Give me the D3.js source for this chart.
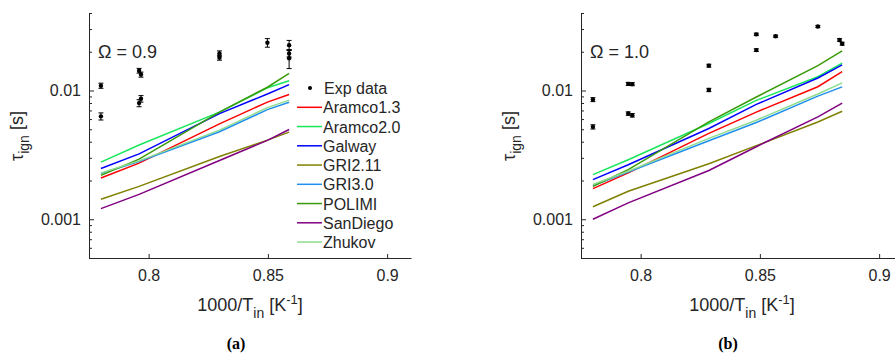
<!DOCTYPE html>
<html>
<head>
<meta charset="utf-8">
<script src="https://cdn.jsdelivr.net/npm/d3@7"></script>
<style>
body { margin: 0; background: #fff; }
text { font-family: "Liberation Sans", Arial, sans-serif; fill: #262626; }
</style>
</head>
<body>
<svg id="chart" width="895" height="355"></svg>
<script>
// model names + colours (legend order)
var models = ["Aramco1.3", "Aramco2.0", "Galway", "GRI2.11", "GRI3.0", "POLIMI", "SanDiego", "Zhukov"];
var colors = ["#ff0000", "#19e65c", "#0000ff", "#808000", "#1f8fef", "#3a9a0a", "#800080", "#8fdc8f"];

// panel (a), omega = 0.9
var xA = [0.78, 0.796, 0.8297, 0.8498, 0.8589];
var simA = {
  "Aramco1.3": [0.00209, 0.00273, 0.0055, 0.00813, 0.0093],
  "Aramco2.0": [0.00278, 0.00377, 0.0068, 0.0105, 0.0119],
  "Galway":    [0.00248, 0.00322, 0.00662, 0.0094, 0.0111],
  "GRI2.11":   [0.00143, 0.0018, 0.00307, 0.00412, 0.00475],
  "GRI3.0":    [0.00226, 0.00281, 0.00478, 0.0071, 0.0081],
  "POLIMI":    [0.00219, 0.00293, 0.0068, 0.0106, 0.0136],
  "SanDiego":  [0.00121, 0.00156, 0.00286, 0.0041, 0.00498],
  "Zhukov":    [0.00229, 0.00284, 0.00492, 0.00736, 0.00842]
};
var expXA = [0.78, 0.78, 0.796, 0.7968, 0.7968, 0.796, 0.8297, 0.8297, 0.8498, 0.8589, 0.8589, 0.8589];
var expYA = [0.0109, 0.0063, 0.01425, 0.0133, 0.00863, 0.00798, 0.0194, 0.018, 0.0235, 0.0225, 0.0194, 0.0178];
var expErrA = [0.0005, 0.0004, 0.0006, 0.0006, 0.0005, 0.0005, 0.0009, 0.0008, 0.0018, 0.002, 0.0012, 0.003];

// panel (b), omega = 1.0
var xB = [0.78, 0.7948, 0.8286, 0.8485, 0.8743, 0.8845];
var simB = {
  "Aramco1.3": [0.00173, 0.00229, 0.00464, 0.0068, 0.0107, 0.014],
  "Aramco2.0": [0.00222, 0.0029, 0.00554, 0.00838, 0.0128, 0.0163],
  "Galway":    [0.00203, 0.00265, 0.00507, 0.0078, 0.0125, 0.0158],
  "GRI2.11":   [0.00125, 0.00165, 0.0027, 0.00373, 0.0057, 0.0069],
  "GRI3.0":    [0.00183, 0.00233, 0.00407, 0.00564, 0.00904, 0.01067],
  "POLIMI":    [0.0018, 0.00243, 0.0057, 0.0089, 0.0156, 0.0203],
  "SanDiego":  [0.001, 0.00134, 0.00239, 0.00366, 0.00624, 0.00799],
  "Zhukov":    [0.00186, 0.00236, 0.00425, 0.00588, 0.0094, 0.01146]
};
var expXB = [0.78, 0.78, 0.7948, 0.7965, 0.7948, 0.7965, 0.8286, 0.8286, 0.8485, 0.8485, 0.8566, 0.8743, 0.8834, 0.8845];
var expYB = [0.0085, 0.00522, 0.01126, 0.0112, 0.00662, 0.00642, 0.0156, 0.0101, 0.0273, 0.0206, 0.0264, 0.0314, 0.0247, 0.0231];
var expErrB = [0.0003, 0.0002, 0.0003, 0.0003, 0.0002, 0.0002, 0.0004, 0.0003, 0.0006, 0.0005, 0.0005, 0.0006, 0.0006, 0.0006];

var xTicks = [0.8, 0.85, 0.9];
var yMajor = [0.001, 0.01];
var yMinor = [0.0005, 0.0006, 0.0007, 0.0008, 0.0009, 0.002, 0.003, 0.004, 0.005, 0.006, 0.007, 0.008, 0.009, 0.02, 0.03, 0.04];

var svg = d3.select("#chart");
svg.append("rect").attr("width", 895).attr("height", 355).attr("fill", "#fff");

function panel(left, xs, sim, ex, ey, ee, omega, tag, showLegend) {
  var x = d3.scaleLinear().domain([0.775, 0.91]).range([left, left + 322]);
  var y = d3.scaleLog().domain([0.0005, 0.04]).range([258, 13]);
  var g = svg.append("g");

  // lines
  var line = d3.line().x(function(d) { return x(d[0]); }).y(function(d) { return y(d[1]); });
  models.forEach(function(m, i) {
    g.append("path")
      .datum(xs.map(function(v, j) { return [v, sim[m][j]]; }))
      .attr("d", line)
      .attr("fill", "none")
      .attr("stroke", colors[i])
      .attr("stroke-width", 1.5);
  });

  // exp data w/ error bars
  var pts = ex.map(function(v, i) { return { x: v, y: ey[i], e: ee[i] }; });
  var eb = g.selectAll(".eb").data(pts).enter().append("g").attr("stroke", "#000").attr("stroke-width", 1);
  eb.append("line")
    .attr("x1", function(d) { return x(d.x); }).attr("x2", function(d) { return x(d.x); })
    .attr("y1", function(d) { return y(d.y - d.e); }).attr("y2", function(d) { return y(d.y + d.e); });
  eb.append("line")
    .attr("x1", function(d) { return x(d.x) - 2.5; }).attr("x2", function(d) { return x(d.x) + 2.5; })
    .attr("y1", function(d) { return y(d.y - d.e); }).attr("y2", function(d) { return y(d.y - d.e); });
  eb.append("line")
    .attr("x1", function(d) { return x(d.x) - 2.5; }).attr("x2", function(d) { return x(d.x) + 2.5; })
    .attr("y1", function(d) { return y(d.y + d.e); }).attr("y2", function(d) { return y(d.y + d.e); });
  g.selectAll(".pt").data(pts).enter().append("circle")
    .attr("cx", function(d) { return x(d.x); })
    .attr("cy", function(d) { return y(d.y); })
    .attr("r", 2.2)
    .attr("fill", "#000");

  // axes (ticks point inward, matlab style)
  g.append("g").attr("transform", "translate(0,258)")
    .call(d3.axisBottom(x).tickValues(xTicks).tickFormat(d3.format("")).tickSizeInner(-4).tickSizeOuter(0).tickPadding(12));
  g.append("g").attr("transform", "translate(" + left + ",0)")
    .call(d3.axisLeft(y).tickValues(yMajor).tickFormat(d3.format("")).tickSizeInner(-5).tickSizeOuter(0).tickPadding(8));
  g.append("g").attr("transform", "translate(" + left + ",0)")
    .call(d3.axisLeft(y).tickValues(yMinor).tickFormat("").tickSizeInner(-3).tickSizeOuter(0))
    .select(".domain").remove();
  g.selectAll(".domain, .tick line").attr("stroke", "#262626");
  g.selectAll(".tick text").attr("font-size", 16).attr("fill", "#262626");

  // labels
  var cx = left + 161;
  var xl = g.append("text").attr("x", cx).attr("y", 311).attr("text-anchor", "middle").attr("font-size", 18);
  xl.append("tspan").text("1000/T");
  xl.append("tspan").attr("dy", 7).attr("font-size", 14).text("in");
  xl.append("tspan").attr("dy", -7).text(" [K");
  xl.append("tspan").attr("dy", -7).attr("font-size", 13).text("-1");
  xl.append("tspan").attr("dy", 7).text("]");

  var yl = g.append("text").attr("transform", "translate(" + (left - 66) + ",136) rotate(-90)")
    .attr("text-anchor", "middle").attr("font-size", 18);
  yl.append("tspan").text("\u03c4");
  yl.append("tspan").attr("dy", 6).attr("font-size", 14).text("ign");
  yl.append("tspan").attr("dy", -6).text(" [s]");

  g.append("text").attr("x", left + 9).attr("y", 58).attr("font-size", 18).text("\u03a9 = " + omega);

  g.append("text").attr("x", cx - 14).attr("y", 349).attr("text-anchor", "middle")
    .style("font-family", "'Liberation Serif', 'Times New Roman', serif").style("font-weight", "bold")
    .style("font-size", "16px").style("fill", "#000").text(tag);

  if (showLegend) {
    var lg = g.append("g");
    lg.append("circle").attr("cx", 310).attr("cy", 88).attr("r", 2).attr("fill", "#000");
    lg.append("text").attr("x", 324).attr("y", 94).attr("font-size", 16).text("Exp data");
    models.forEach(function(m, i) {
      var yy = 107.3 + i * 19.25;
      lg.append("line").attr("x1", 297).attr("x2", 322).attr("y1", yy).attr("y2", yy)
        .attr("stroke", colors[i]).attr("stroke-width", 1.5);
      lg.append("text").attr("x", 323).attr("y", yy + 6).attr("font-size", 16).text(m);
    });
  }
}

panel(89, xA, simA, expXA, expYA, expErrA, "0.9", "(a)", true);
panel(581, xB, simB, expXB, expYB, expErrB, "1.0", "(b)", false);
</script>
</body>
</html>
